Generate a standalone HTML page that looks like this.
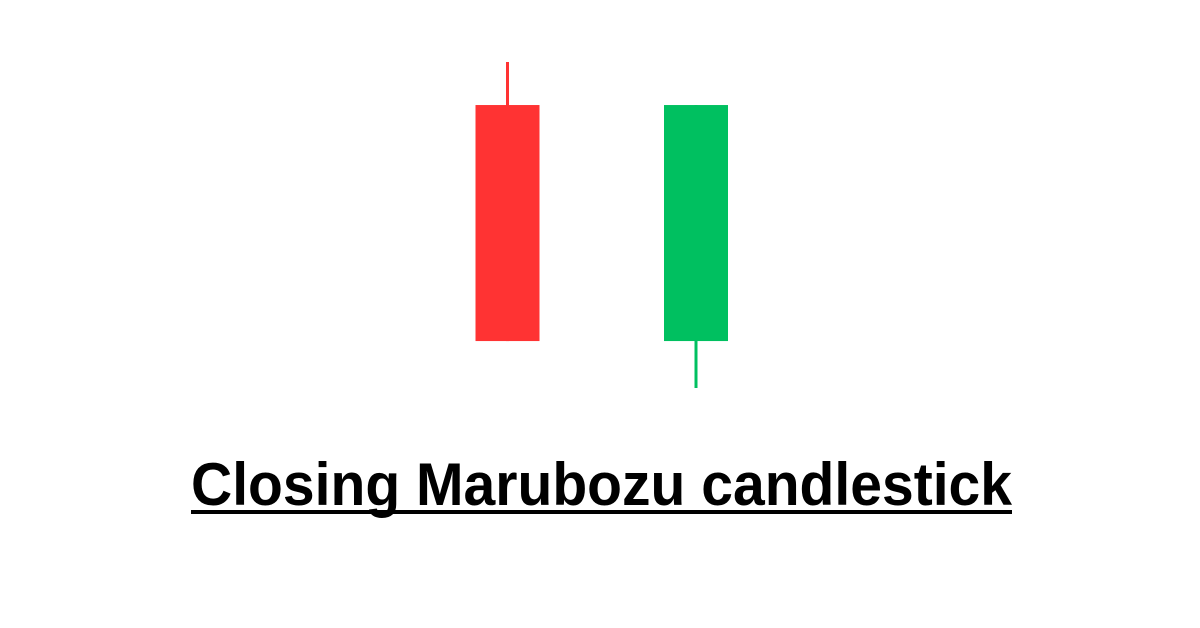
<!DOCTYPE html>
<html><head><meta charset="utf-8"><style>
html,body{margin:0;padding:0;background:#fff;}
svg{display:block;}
</style></head><body>
<svg id="chart" width="1200" height="628" viewBox="0 0 1200 628">
<rect width="1200" height="628" fill="#ffffff"/>
<g id="candles"></g>
<text x="191" y="505" font-family="'Liberation Sans', sans-serif" font-weight="bold" font-size="60" textLength="821" lengthAdjust="spacingAndGlyphs" fill="#000">Closing Marubozu candlestick</text>
<rect x="191" y="510" width="821" height="4" fill="#000"/>
</svg>
<script>
const categories = ["bearish", "bullish"];
const opens = [86.8, 14.4];
const closes = [14.4, 86.8];
const highs = [100, 86.8];
const lows = [14.4, 0];
const colors = ["#ff3333", "#00c060"];

const yMin = 0, yMax = 100, pxBottom = 388, pxTop = 62;
function yScale(v){ return pxBottom - (v - yMin) / (yMax - yMin) * (pxBottom - pxTop); }
const xStart = 507.5, xStep = 188.5, bodyW = 64;
function xScale(i){ return xStart + i * xStep; }

const ns = "http://www.w3.org/2000/svg";
const g = document.getElementById("candles");
categories.forEach(function(c, i){
  const cx = xScale(i);
  const wick = document.createElementNS(ns, "rect");
  
  
  wick.setAttribute("x", cx - 1.5);
  wick.setAttribute("y", yScale(highs[i]));
  wick.setAttribute("width", 3);
  wick.setAttribute("height", yScale(lows[i]) - yScale(highs[i]));
  wick.setAttribute("fill", colors[i]);
  g.appendChild(wick);
  const top = Math.max(opens[i], closes[i]), bot = Math.min(opens[i], closes[i]);
  const body = document.createElementNS(ns, "rect");
  
  
  body.setAttribute("x", cx - bodyW / 2);
  body.setAttribute("y", yScale(top));
  body.setAttribute("width", bodyW);
  body.setAttribute("height", yScale(bot) - yScale(top));
  body.setAttribute("fill", colors[i]);
  g.appendChild(body);
});
</script>
</body></html>
